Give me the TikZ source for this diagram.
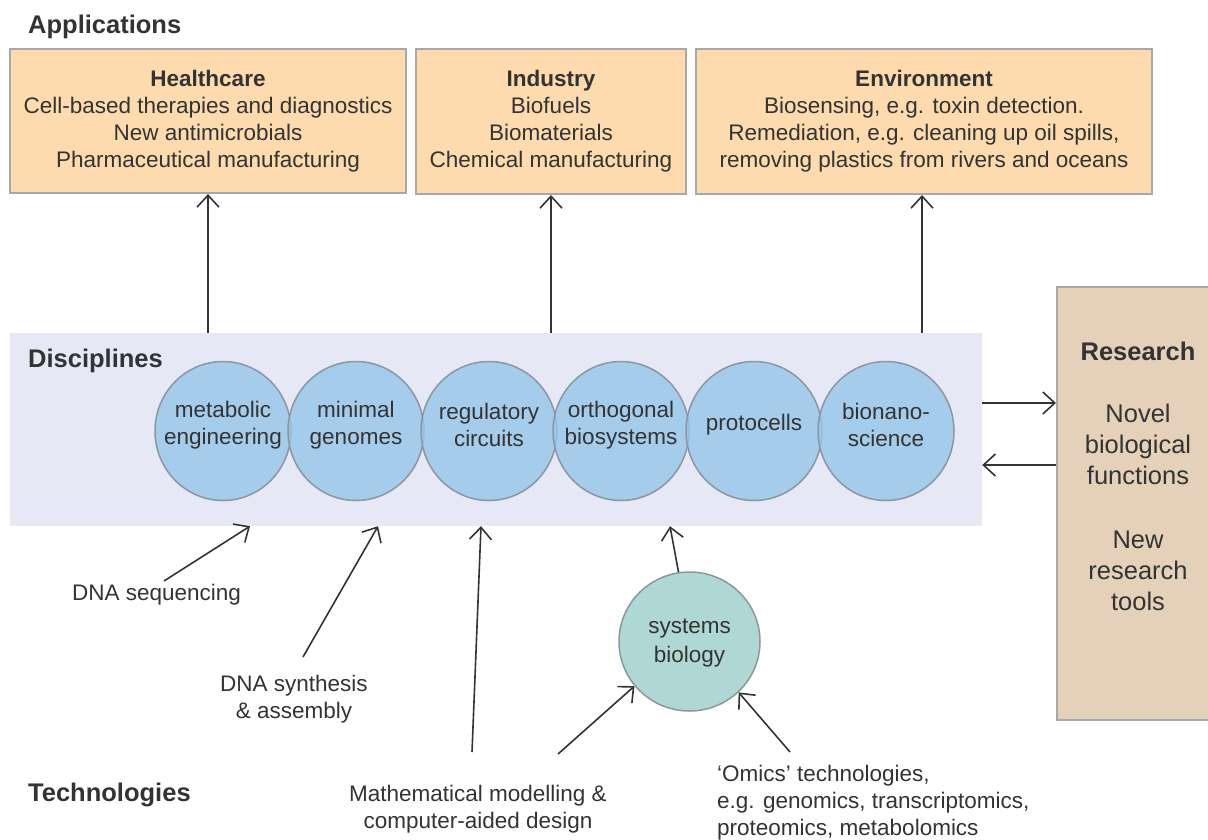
\documentclass[tikz,border=0pt]{standalone}
\usepackage{fontspec}
\setmainfont{Liberation Sans}
\usetikzlibrary{arrows.meta,shapes.geometric}
\definecolor{txt}{HTML}{333333}
\definecolor{appfill}{HTML}{FDDBAF}
\definecolor{boxline}{HTML}{A8A8A8}
\definecolor{bandfill}{HTML}{E6E9F5}
\definecolor{circfill}{RGB}{150,197,233}
\definecolor{circline}{HTML}{8C96A0}
\definecolor{sbfill}{HTML}{AFD8D4}
\definecolor{resfill}{HTML}{E5D1BA}
\begin{document}
\begin{tikzpicture}[x=1pt,y=-1pt,
  font=\fontsize{22.5}{27}\selectfont, text=txt,
  appbox/.style={draw=boxline, line width=2pt, fill=appfill, align=center, inner sep=0pt},
  title/.style={font=\fontsize{25.5}{30}\selectfont\bfseries, inner sep=0pt, anchor=west},
  disc/.style={ellipse, draw=circline, line width=1.5pt, fill=circfill, fill opacity=0.8,
    minimum width=136pt, minimum height=139pt, inner sep=0pt,
    label={[lbl, text opacity=1, fill opacity=1, yshift=6pt]center:#1}},
  lbl/.style={inner sep=0pt, align=center},
  conn/.style={draw=txt, line width=1.6pt, -{Straight Barb[length=12pt,width=22pt,line width=1.6pt]}}]
\useasboundingbox (0,0) rectangle (1208,839);

% titles
\node[title] (appl) at (28,27) {Applications};

% application boxes
\node[appbox, minimum width=396pt, minimum height=144pt] (hc) at (208,121)
  {\textbf{Healthcare}\\Cell-based therapies and diagnostics\\New antimicrobials\\Pharmaceutical manufacturing};
\node[appbox, minimum width=270pt, minimum height=145pt] (ind) at (551,121.5)
  {\textbf{Industry}\\Biofuels\\Biomaterials\\Chemical manufacturing};
\node[appbox, minimum width=456pt, minimum height=145pt] (env) at (924,121.5)
  {\textbf{Environment}\\Biosensing, e.g. toxin detection.\\Remediation, e.g. cleaning up oil spills,\\removing plastics from rivers and oceans};

% disciplines band
\node[fill=bandfill, draw=none, minimum width=972pt, minimum height=193pt, inner sep=0pt] (band) at (496,429.5) {};
\node[title] (discl) at (28,361) {Disciplines};

\node[disc={metabolic\\engineering}] (me) at (223,431) {};
\node[disc={minimal\\genomes}] (mg) at (356,431) {};
\node[disc={regulatory\\circuits}] (rc) at (489,431) {};
\node[disc={orthogonal\\biosystems}] (ob) at (621,431) {};
\node[disc={protocells}] (pc) at (754,431) {};
\node[disc={bionano-\\science}] (bn) at (886,431) {};

% research box
\node[draw=boxline, line width=2pt, fill=resfill, minimum width=160pt, minimum height=433pt, inner sep=0pt] (res) at (1137,503.5) {};
\node[lbl, font=\fontsize{25.5}{31}\selectfont] (restext) at (1138,476)
  {\textbf{Research}\\[31pt]Novel\\biological\\functions\\[33pt]New\\research\\tools};

% systems biology
\node[ellipse, draw=circline, line width=1.5pt, fill=sbfill, minimum width=141pt, minimum height=139pt, inner sep=0pt,
  label={[lbl, yshift=-2pt, font=\fontsize{22.5}{29}\selectfont]center:systems\\biology}] (sb) at (689.5,641.5) {};

% technologies labels
\node[title] (tech) at (28,795) {Technologies};
\node[lbl, anchor=west] (seq) at (72,595) {DNA sequencing};
\node[lbl] (synth) at (294,699) {DNA synthesis\\\& assembly};
\node[lbl] (math) at (478,809) {Mathematical modelling \&\\computer-aided design};
\node[lbl, anchor=west, align=left] (omics) at (717,803) {`Omics' technologies,\\e.g. genomics, transcriptomics,\\proteomics, metabolomics};

% connectors up to applications
\draw[conn] (band.north -| hc.south) -- (hc.south);
\draw[conn] (band.north -| ind.south) -- (ind.south);
\draw[conn] (band.north -| 922,0) -- (env.south -| 922,0);

% research connectors
\coordinate (ra) at ([yshift=26.5pt]band.east);
\coordinate (rb) at ([yshift=-35.5pt]band.east);
\draw[conn] (ra) -- (ra -| res.west);
\draw[conn] (rb -| res.west) -- (rb);

% technology connectors
\coordinate (s1) at (164,581);
\coordinate (s2) at (303,657);
\coordinate (m1) at (472,752);
\coordinate (m2) at (558,754);
\coordinate (o1) at (790,752);
\draw[conn] (s1) -- (band.south -| 250,0);
\draw[conn] (s2) -- (band.south -| 378,0);
\draw[conn] (m1) -- (band.south -| 481,0);
\draw[conn] (sb.99) -- (band.south -| 670,0);
\draw[conn] (m2) -- (sb.219);
\draw[conn] (o1) -- (sb.314);
\end{tikzpicture}
\end{document}
